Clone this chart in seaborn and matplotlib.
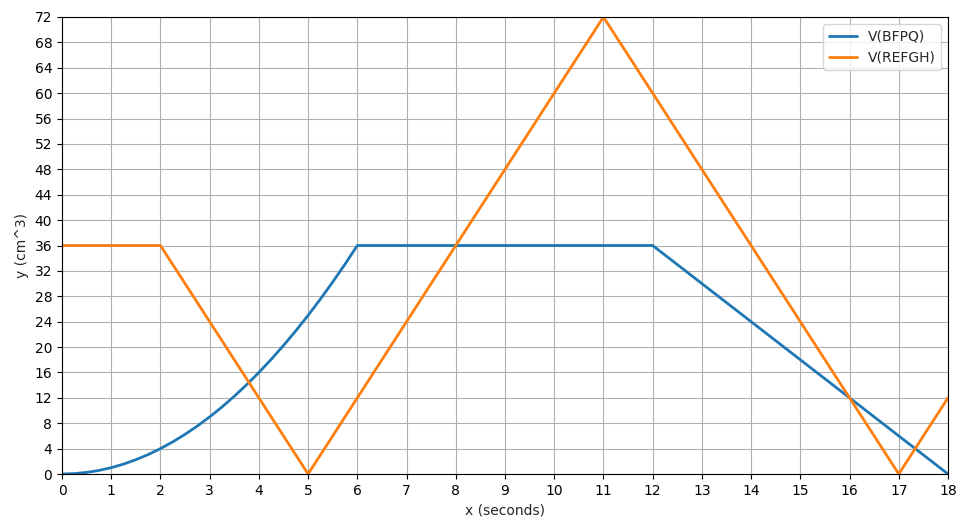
import matplotlib
matplotlib.use("Agg")
import matplotlib.pyplot as plt
import seaborn as sns
import pandas as pd

bfpq_x = [0, 0.25, 0.5, 0.75, 1, 1.25, 1.5, 1.75, 2, 2.25, 2.5, 2.75, 3, 3.25, 3.5, 3.75,
          4, 4.25, 4.5, 4.75, 5, 5.25, 5.5, 5.75, 6, 12, 18]
bfpq_y = [0, 0.06, 0.25, 0.56, 1, 1.56, 2.25, 3.06, 4, 5.06, 6.25, 7.56, 9, 10.56, 12.25, 14.06,
          16, 18.06, 20.25, 22.56, 25, 27.56, 30.25, 33.06, 36, 36, 0]
refgh_x = [0, 2, 5, 11, 17, 18]
refgh_y = [36, 36, 0, 72, 0, 12]

sns.set_style("white")
fig = plt.figure(figsize=(9.66, 5.32), dpi=100)
ax = fig.add_axes([62/966, 1-474/532, (948-62)/966, (474-17)/532])
d1 = pd.DataFrame({"x": bfpq_x, "y": bfpq_y})
d2 = pd.DataFrame({"x": refgh_x, "y": refgh_y})
sns.lineplot(data=d1, x="x", y="y", ax=ax, color="#1f77b4", lw=2, label="V(BFPQ)", sort=False)
sns.lineplot(data=d2, x="x", y="y", ax=ax, color="#ff7f0e", lw=2, label="V(REFGH)", sort=False)
ax.set_xlim(0, 18)
ax.set_ylim(0, 72)
ax.set_xticks(range(0, 19))
ax.set_yticks(range(0, 73, 4))
ax.grid(True, color="#b0b0b0", lw=0.8)
for s in ax.spines.values():
    s.set_color("black")
    s.set_linewidth(0.8)
ax.tick_params(axis="both", direction="out", length=3.5, width=0.8, labelsize=10, colors="black", left=True, bottom=True)
ax.set_xlabel("x (seconds)", fontsize=10)
ax.set_ylabel("y (cm^3)", fontsize=10)
ax.legend(loc="upper right", fontsize=10, frameon=True)
fig.savefig("out.png", dpi=100)
